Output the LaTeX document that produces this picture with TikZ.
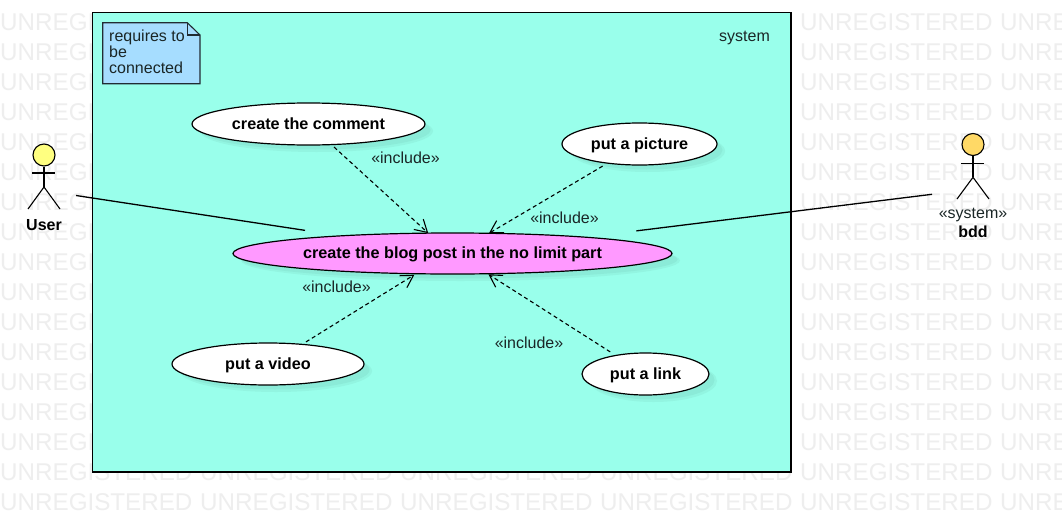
\documentclass[tikz,border=0pt]{standalone}
\usepackage{fontspec}
\setmainfont{Liberation Sans}
\usetikzlibrary{shapes.geometric,arrows.meta}
\definecolor{sysfill}{HTML}{99FFEB}
\definecolor{wmgray}{HTML}{EEEEEE}
\definecolor{shadeout}{HTML}{92F5E1}
\definecolor{shadein}{HTML}{8BEBD8}
\definecolor{notefill}{HTML}{A6DDFF}
\definecolor{mainfill}{HTML}{FF99FF}
\definecolor{userhead}{HTML}{FFFF80}
\definecolor{bddhead}{HTML}{FFD966}
\definecolor{ink}{HTML}{1A2626}
\tikzset{
  wm/.style={inner sep=0pt,anchor=west,text=wmgray,font=\fontsize{24.2}{25}\selectfont},
  usecase/.style={ellipse,draw=black,line width=1.2pt,fill=white,inner sep=0pt,outer sep=0pt,text height=13.6pt,text depth=3pt,font=\fontsize{16.2}{18}\selectfont\bfseries,text=black},
  lbl/.style={inner sep=0pt,text=ink,text height=13.6pt,text depth=3pt,font=\fontsize{16}{18}\selectfont},
  actorname/.style={inner sep=0pt,text=black,text height=13.6pt,text depth=3pt,font=\fontsize{16}{18}\selectfont\bfseries},
  assoc/.style={draw=black,line width=1.3pt},
  incl/.style={draw=black,line width=1.1pt,dash pattern=on 4pt off 3pt,-{Straight Barb[length=12pt,width=14pt,line width=1.1pt]}},
  limb/.style={draw=black,line width=1.1pt},
  anchorbox/.style={inner sep=0pt,outer sep=0pt,minimum height=60pt}
}
\newcommand{\softshadow}[4]{%
  \fill[shadeout] (#1,#2) ellipse [x radius=#3pt,y radius=#4pt];
  \fill[shadein] (#1-1,#2-1) ellipse [x radius=#3pt-1.5pt,y radius=#4pt-1.5pt];
}
\begin{document}
\begin{tikzpicture}[x=1pt,y=-1pt]
\useasboundingbox (0,0) rectangle (1062,522);
\fill[white] (0,0) rectangle (1062,522);
% watermark
\foreach \yy in {22,52,...,502}{
  \foreach \xx in {0,200,...,1000}{
    \node[wm] at (\xx,\yy) {UNREGISTERED};
  }
}
% system
\node[draw=black,line width=1.2pt,fill=sysfill,minimum width=698.5pt,minimum height=459.5pt,inner sep=0pt,outer sep=0pt] (sys) at (441.75,242.25) {};
\node[lbl] (systxt) at (744.5,36) {system};
% note
\draw[draw=black!80!notefill,line width=1.1pt,fill=notefill] (102.7,22.7) -- (187.3,22.7) -- (200,35) -- (200,83.7) -- (102.7,83.7) -- cycle;
\draw[draw=black!80!notefill,line width=1.1pt] (187.3,22.7) -- (187.3,35) -- (200,35);
\node[inner sep=0pt,text=ink,anchor=north west,align=left,font=\fontsize{16}{16}\selectfont] (note) at (109,30) {requires to\\be\\connected};
% shadows
\softshadow{316.5}{131}{116.5}{21}
\softshadow{647.5}{151}{77.5}{21}
\softshadow{460.5}{260.5}{219.5}{20.5}
\softshadow{276}{371}{96}{21}
\softshadow{653.5}{381}{63.5}{21}
% use cases
\node[usecase,minimum width=233pt,minimum height=42pt] (comment) at (308.5,124) {create the comment};
\node[usecase,minimum width=155pt,minimum height=42pt] (picture) at (639.5,144) {put a picture};
\node[usecase,fill=mainfill,minimum width=439pt,minimum height=41pt] (main) at (452.5,253.5) {create the blog post in the no limit part};
\node[usecase,minimum width=192pt,minimum height=42pt] (video) at (268,364) {put a video};
\node[usecase,minimum width=127pt,minimum height=42pt] (link) at (645.5,374) {put a link};
% actors
\node[circle,draw=black,line width=1.1pt,fill=userhead,minimum size=22pt,inner sep=0pt] (uhead) at (44,155) {};
\coordinate (uarml) at (32,173);
\coordinate (uarmr) at (55,173);
\coordinate (uhip) at (44,187);
\coordinate (ulegl) at (28,209);
\coordinate (ulegr) at (60,209);
\draw[limb] (uhead.south) -- (uhip);
\draw[limb] (uarml) -- (uarmr);
\draw[limb] (ulegl) -- (uhip) -- (ulegr);
\node[actorname] (username) at (44,225) {User};
\node[anchorbox,minimum width=64pt] (user) at (44,191) {};
\node[circle,draw=black,line width=1.1pt,fill=bddhead,minimum size=22pt,inner sep=0pt] (bhead) at (973,144.5) {};
\coordinate (barml) at (961,163.3);
\coordinate (barmr) at (984,163.3);
\coordinate (bhip) at (973,177.3);
\coordinate (blegl) at (957,199);
\coordinate (blegr) at (989,199);
\draw[limb] (bhead.south) -- (bhip);
\draw[limb] (barml) -- (barmr);
\draw[limb] (blegl) -- (bhip) -- (blegr);
\node[lbl] (bddst) at (973,213) {«system»};
\node[actorname] (bddname) at (973,232) {bdd};
\node[anchorbox,minimum width=82pt] (bdd) at (973,190) {};
% associations
\draw[assoc,shorten >=36.4pt] (user.-8.7) -- (main.171.1);
\draw[assoc,shorten >=51.4pt] (bdd.186.93) -- (main.7.0);
% includes
\draw[incl,shorten <=3.6pt] (comment.-42.2) -- (main.140.2);
\draw[incl,shorten <=5.8pt] (picture.211.9) -- (main.29.6);
\draw[incl,shorten <=4.6pt,shorten >=2pt] (video.30.8) -- (main.209);
\draw[incl,shorten <=6.6pt,shorten >=1pt] (link.148.3) -- (main.-30.3);
\node[lbl] (i1) at (405.5,158) {«include»};
\node[lbl] (i2) at (564.5,218) {«include»};
\node[lbl] (i3) at (336.5,287.5) {«include»};
\node[lbl] (i4) at (529,343.5) {«include»};
\end{tikzpicture}
\end{document}
